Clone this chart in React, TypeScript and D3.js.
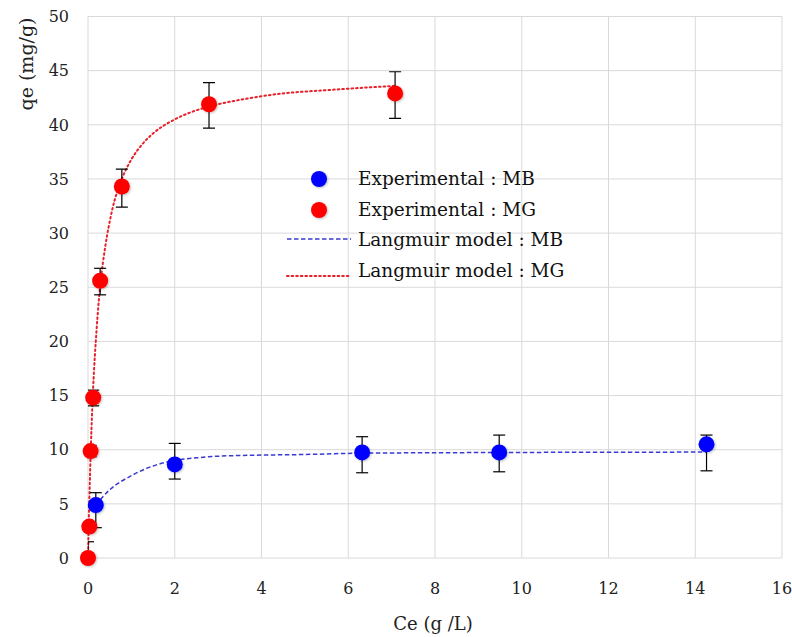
import React from "react";
import * as d3 from "d3";

// ---- data ----
const xTicks = [0, 2, 4, 6, 8, 10, 12, 14, 16];
const yTicks = [0, 5, 10, 15, 20, 25, 30, 35, 40, 45, 50];

const mbCe = [0.18, 2.0, 6.32, 9.48, 14.26];
const mbQe = [4.89, 8.64, 9.75, 9.75, 10.5];
const mbErrLow = [2.8, 7.29, 7.87, 7.96, 8.05];
const mbErrHigh = [6.03, 10.58, 11.2, 11.35, 11.35];

const mgCe = [0, 0.03, 0.06, 0.12, 0.28, 0.78, 2.79, 7.08];
const mgQe = [0, 2.9, 9.87, 14.8, 25.6, 34.3, 41.9, 42.9];
const mgErrLow = [-1.5, 2.6, 9.35, 14.05, 24.3, 32.4, 39.7, 40.6];
const mgErrHigh = [1.5, 3.2, 10.4, 15.5, 26.75, 35.9, 43.9, 44.9];

// Langmuir model curves
const mbModelCe = [0.18, 0.5, 1, 1.5, 2, 2.5, 3, 4, 4.9, 6.32, 9.48, 14.26];
const mbModelQe = [4.9, 6.3, 7.6, 8.5, 9.0, 9.25, 9.4, 9.5, 9.55, 9.68, 9.74, 9.78];
const mgModelCe = [0, 0.02, 0.05, 0.08, 0.12, 0.2, 0.28, 0.4, 0.55, 0.78, 1.0, 1.25, 1.5, 2, 2.4, 2.8, 3.5, 4.5, 5.5, 7.08];
const mgModelQe = [0, 3.7, 8.1, 11.9, 15.8, 21.2, 25.1, 28.8, 32.0, 35.0, 36.8, 38.2, 39.2, 40.5, 41.2, 41.7, 42.3, 42.9, 43.2, 43.6];

const legendLabels = [
  "Experimental : MB",
  "Experimental : MG",
  "Langmuir model : MB",
  "Langmuir model : MG",
];

const W = 792;
const H = 637;
const FONT = "'DejaVu Serif', 'Liberation Serif', serif";

export default function App() {
  const x = d3.scaleLinear().domain([0, 16]).range([88, 782]);
  const y = d3.scaleLinear().domain([0, 50]).range([558, 16.5]);

  const line = d3
    .line<[number, number]>()
    .x((d) => x(d[0]))
    .y((d) => y(d[1]))
    .curve(d3.curveMonotoneX);

  const mbModel = line(mbModelCe.map((c, i) => [c, mbModelQe[i]] as [number, number])) || "";
  const mgModel = line(mgModelCe.map((c, i) => [c, mgModelQe[i]] as [number, number])) || "";

  const red = "#ff0000";
  const blue = "#0000ff";
  const grid = "#d9d9d9";
  const cap = 6;

  const errBars = (ce: number[], lo: number[], hi: number[], key: string) =>
    ce.map((c, i) => (
      <g key={key + i} stroke="#000" strokeWidth={1.2}>
        <line x1={x(c)} x2={x(c)} y1={y(lo[i])} y2={y(hi[i])} />
        <line x1={x(c) - cap} x2={x(c) + cap} y1={y(hi[i])} y2={y(hi[i])} />
        <line x1={x(c) - cap} x2={x(c) + cap} y1={y(lo[i])} y2={y(lo[i])} />
      </g>
    ));

  const legendRowsY = [179, 210, 240, 271];

  return (
    <svg
      width={W}
      height={H}
      style={{ position: "absolute", left: 0, top: 0, background: "#fff" }}
      fontFamily={FONT}
    >
      <defs>
        <clipPath id="plotClip">
          <rect x={x(0)} y={y(50)} width={x(16) - x(0)} height={y(0) - y(50)} />
        </clipPath>
        <filter id="glow" x="-50%" y="-50%" width="200%" height="200%">
          <feDropShadow dx="1" dy="1" stdDeviation="1.3" floodColor="#000" floodOpacity="0.25" />
        </filter>
      </defs>
      <rect x={0} y={0} width={W} height={H} fill="#fff" />

      {/* grid */}
      {xTicks.map((t) => (
        <line key={"gx" + t} x1={x(t)} x2={x(t)} y1={y(0)} y2={y(50)} stroke={grid} strokeWidth={1} />
      ))}
      {yTicks.map((t) => (
        <line key={"gy" + t} x1={x(0)} x2={x(16)} y1={y(t)} y2={y(t)} stroke={grid} strokeWidth={1} />
      ))}

      {/* tick labels */}
      {yTicks.map((t) => (
        <text key={"ty" + t} x={69} y={y(t)} dy="0.36em" textAnchor="end" fontSize={16} fill="#222">
          {t}
        </text>
      ))}
      {xTicks.map((t) => (
        <text key={"tx" + t} x={x(t)} y={594} textAnchor="middle" fontSize={16} fill="#222">
          {t}
        </text>
      ))}

      {/* axis titles */}
      <text x={433} y={630} textAnchor="middle" fontSize={18} fill="#222">
        Ce (g /L)
      </text>
      <text
        transform={`translate(33,64) rotate(-90)`}
        textAnchor="middle"
        fontSize={19}
        fill="#222"
      >
        qe (mg/g)
      </text>

      {/* model curves */}
      <path d={mbModel} fill="none" stroke="#3a3ad0" strokeWidth={1.5} strokeDasharray="4.5 2.5" />
      <path
        d={mgModel}
        fill="none"
        stroke="#e8202a"
        strokeWidth={2}
        strokeDasharray="1.6 3"
        strokeLinecap="round"
      />

      {/* error bars */}
      <g clipPath="url(#plotClip)">
        {errBars(mbCe, mbErrLow, mbErrHigh, "ebmb")}
        {errBars(mgCe, mgErrLow, mgErrHigh, "ebmg")}
      </g>

      {/* points */}
      <g filter="url(#glow)">
        {mbCe.map((c, i) => (
          <circle key={"pmb" + i} cx={x(c)} cy={y(mbQe[i])} r={8} fill={blue} />
        ))}
        {mgCe.map((c, i) => (
          <circle key={"pmg" + i} cx={x(c)} cy={y(mgQe[i])} r={8} fill={red} />
        ))}
      </g>

      {/* legend */}
      <g>
        <circle cx={319} cy={legendRowsY[0]} r={8} fill={blue} filter="url(#glow)" />
        <circle cx={319} cy={legendRowsY[1]} r={8} fill={red} filter="url(#glow)" />
        <line x1={287} x2={351} y1={239} y2={239} stroke="#3a3ad0" strokeWidth={1.5} strokeDasharray="4.5 2.5" />
        <line
          x1={287}
          x2={351}
          y1={276}
          y2={276}
          stroke="#e8202a"
          strokeWidth={2}
          strokeDasharray="1.6 3"
          strokeLinecap="round"
        />
        {legendLabels.map((l, i) => (
          <text key={"lg" + i} x={358} y={legendRowsY[i]} dy="0.35em" fontSize={18.5} fill="#111">
            {l}
          </text>
        ))}
      </g>
    </svg>
  );
}
